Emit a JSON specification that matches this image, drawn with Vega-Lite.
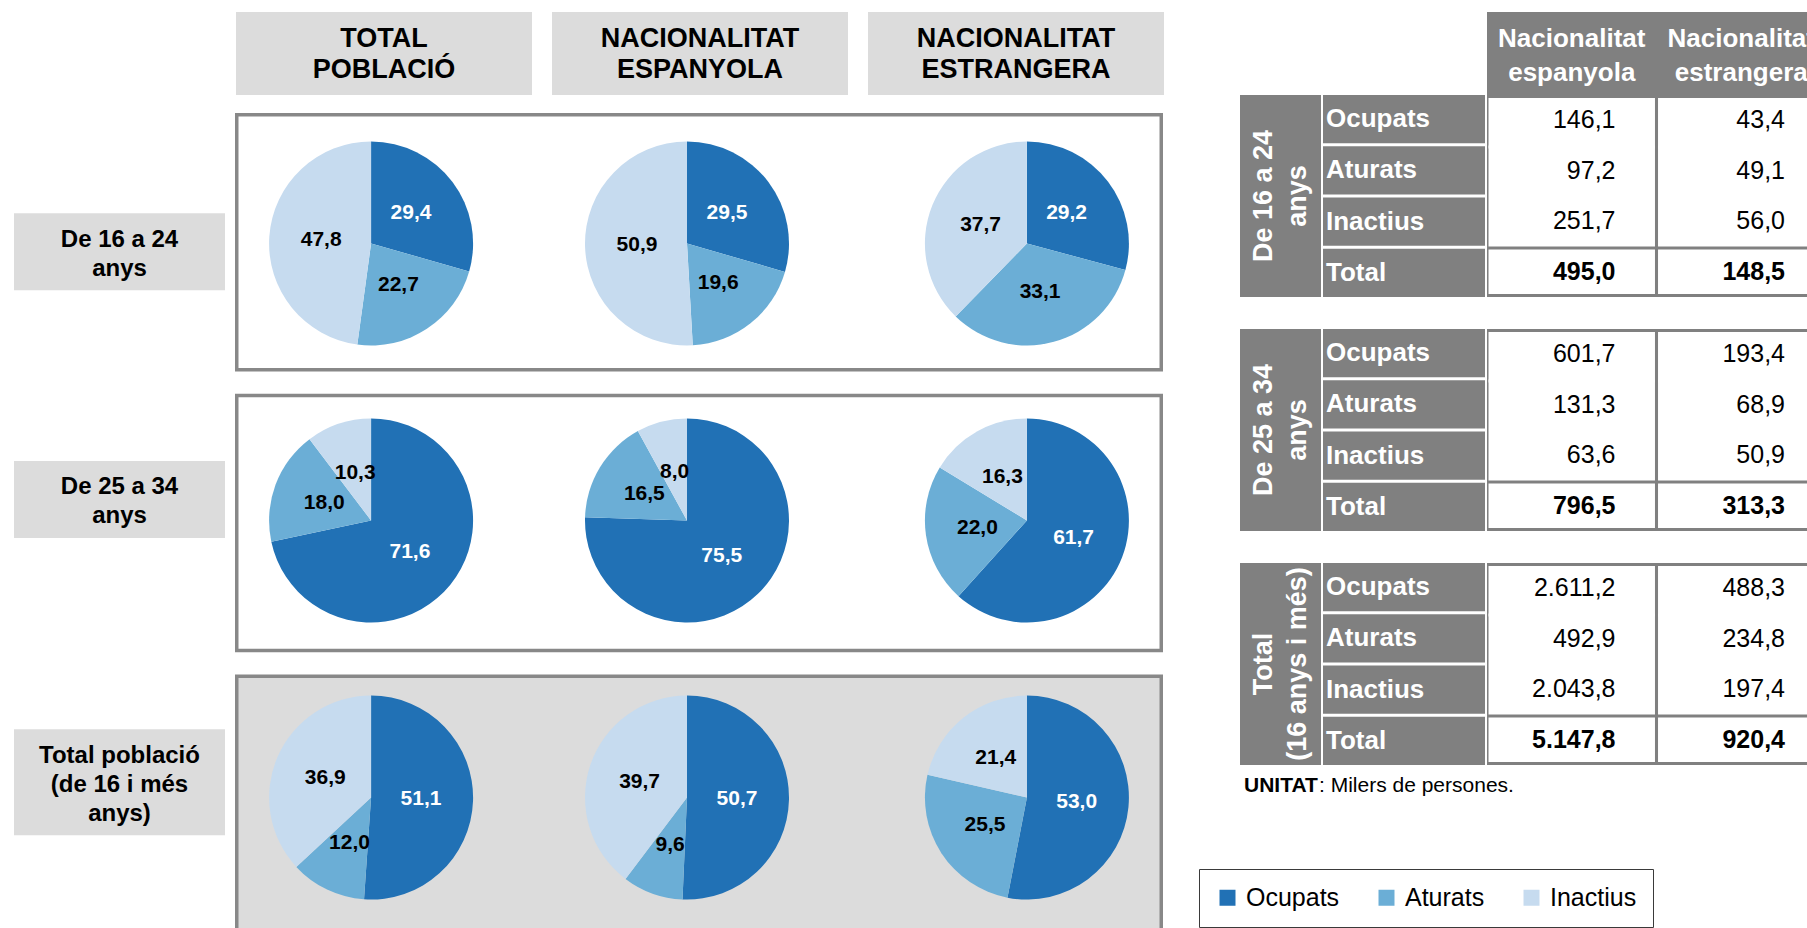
{
  "$schema": "https://vega.github.io/schema/vega-lite/v6.json",
  "padding": {"left": 14, "top": 12, "right": 0, "bottom": 0},
  "background": "white",
  "spacing": 76,
  "config": {
    "font": "Liberation Sans",
    "view": {"stroke": null},
    "locale": {"number": {"decimal": ",", "thousands": ".", "grouping": [3], "currency": ["", " €"]}}
  },
  "datasets": {
    "pies": [
      {"age": "De 16 a 24\nanys", "nat": "TOTAL POBLACIÓ", "cat": "Ocupats", "pct": 29.4},
      {"age": "De 16 a 24\nanys", "nat": "TOTAL POBLACIÓ", "cat": "Aturats", "pct": 22.7},
      {"age": "De 16 a 24\nanys", "nat": "TOTAL POBLACIÓ", "cat": "Inactius", "pct": 47.8},
      {"age": "De 16 a 24\nanys", "nat": "NACIONALITAT ESPANYOLA", "cat": "Ocupats", "pct": 29.5},
      {"age": "De 16 a 24\nanys", "nat": "NACIONALITAT ESPANYOLA", "cat": "Aturats", "pct": 19.6},
      {"age": "De 16 a 24\nanys", "nat": "NACIONALITAT ESPANYOLA", "cat": "Inactius", "pct": 50.9},
      {"age": "De 16 a 24\nanys", "nat": "NACIONALITAT ESTRANGERA", "cat": "Ocupats", "pct": 29.2},
      {"age": "De 16 a 24\nanys", "nat": "NACIONALITAT ESTRANGERA", "cat": "Aturats", "pct": 33.1},
      {"age": "De 16 a 24\nanys", "nat": "NACIONALITAT ESTRANGERA", "cat": "Inactius", "pct": 37.7},
      {"age": "De 25 a 34\nanys", "nat": "TOTAL POBLACIÓ", "cat": "Ocupats", "pct": 71.6},
      {"age": "De 25 a 34\nanys", "nat": "TOTAL POBLACIÓ", "cat": "Aturats", "pct": 18.0},
      {"age": "De 25 a 34\nanys", "nat": "TOTAL POBLACIÓ", "cat": "Inactius", "pct": 10.3},
      {"age": "De 25 a 34\nanys", "nat": "NACIONALITAT ESPANYOLA", "cat": "Ocupats", "pct": 75.5},
      {"age": "De 25 a 34\nanys", "nat": "NACIONALITAT ESPANYOLA", "cat": "Aturats", "pct": 16.5},
      {"age": "De 25 a 34\nanys", "nat": "NACIONALITAT ESPANYOLA", "cat": "Inactius", "pct": 8.0},
      {"age": "De 25 a 34\nanys", "nat": "NACIONALITAT ESTRANGERA", "cat": "Ocupats", "pct": 61.7},
      {"age": "De 25 a 34\nanys", "nat": "NACIONALITAT ESTRANGERA", "cat": "Aturats", "pct": 22.0},
      {"age": "De 25 a 34\nanys", "nat": "NACIONALITAT ESTRANGERA", "cat": "Inactius", "pct": 16.3},
      {"age": "Total població\n(de 16 i més\nanys)", "nat": "TOTAL POBLACIÓ", "cat": "Ocupats", "pct": 51.1},
      {"age": "Total població\n(de 16 i més\nanys)", "nat": "TOTAL POBLACIÓ", "cat": "Aturats", "pct": 12.0},
      {"age": "Total població\n(de 16 i més\nanys)", "nat": "TOTAL POBLACIÓ", "cat": "Inactius", "pct": 36.9},
      {"age": "Total població\n(de 16 i més\nanys)", "nat": "NACIONALITAT ESPANYOLA", "cat": "Ocupats", "pct": 50.7},
      {"age": "Total població\n(de 16 i més\nanys)", "nat": "NACIONALITAT ESPANYOLA", "cat": "Aturats", "pct": 9.6},
      {"age": "Total població\n(de 16 i més\nanys)", "nat": "NACIONALITAT ESPANYOLA", "cat": "Inactius", "pct": 39.7},
      {"age": "Total població\n(de 16 i més\nanys)", "nat": "NACIONALITAT ESTRANGERA", "cat": "Ocupats", "pct": 53.0},
      {"age": "Total població\n(de 16 i més\nanys)", "nat": "NACIONALITAT ESTRANGERA", "cat": "Aturats", "pct": 25.5},
      {"age": "Total població\n(de 16 i més\nanys)", "nat": "NACIONALITAT ESTRANGERA", "cat": "Inactius", "pct": 21.4}
    ],
    "table": [
      {"grp": "De 16 a 24\nanys", "cat": "Ocupats", "nat": "esp", "val": 146.1},
      {"grp": "De 16 a 24\nanys", "cat": "Aturats", "nat": "esp", "val": 97.2},
      {"grp": "De 16 a 24\nanys", "cat": "Inactius", "nat": "esp", "val": 251.7},
      {"grp": "De 16 a 24\nanys", "cat": "Total", "nat": "esp", "val": 495.0},
      {"grp": "De 16 a 24\nanys", "cat": "Ocupats", "nat": "est", "val": 43.4},
      {"grp": "De 16 a 24\nanys", "cat": "Aturats", "nat": "est", "val": 49.1},
      {"grp": "De 16 a 24\nanys", "cat": "Inactius", "nat": "est", "val": 56.0},
      {"grp": "De 16 a 24\nanys", "cat": "Total", "nat": "est", "val": 148.5},
      {"grp": "De 25 a 34\nanys", "cat": "Ocupats", "nat": "esp", "val": 601.7},
      {"grp": "De 25 a 34\nanys", "cat": "Aturats", "nat": "esp", "val": 131.3},
      {"grp": "De 25 a 34\nanys", "cat": "Inactius", "nat": "esp", "val": 63.6},
      {"grp": "De 25 a 34\nanys", "cat": "Total", "nat": "esp", "val": 796.5},
      {"grp": "De 25 a 34\nanys", "cat": "Ocupats", "nat": "est", "val": 193.4},
      {"grp": "De 25 a 34\nanys", "cat": "Aturats", "nat": "est", "val": 68.9},
      {"grp": "De 25 a 34\nanys", "cat": "Inactius", "nat": "est", "val": 50.9},
      {"grp": "De 25 a 34\nanys", "cat": "Total", "nat": "est", "val": 313.3},
      {"grp": "Total\n(16 anys i més)", "cat": "Ocupats", "nat": "esp", "val": 2611.2},
      {"grp": "Total\n(16 anys i més)", "cat": "Aturats", "nat": "esp", "val": 492.9},
      {"grp": "Total\n(16 anys i més)", "cat": "Inactius", "nat": "esp", "val": 2043.8},
      {"grp": "Total\n(16 anys i més)", "cat": "Total", "nat": "esp", "val": 5147.8},
      {"grp": "Total\n(16 anys i més)", "cat": "Ocupats", "nat": "est", "val": 488.3},
      {"grp": "Total\n(16 anys i més)", "cat": "Aturats", "nat": "est", "val": 234.8},
      {"grp": "Total\n(16 anys i més)", "cat": "Inactius", "nat": "est", "val": 197.4},
      {"grp": "Total\n(16 anys i més)", "cat": "Total", "nat": "est", "val": 920.4}
    ]
  },
  "hconcat": [
    {
      "vconcat": [
        {
          "hconcat": [
            {"width": 211, "height": 83, "data": {"values": [{}]}, "mark": {"type": "text", "text": ""}},
            {
              "width": 928, "height": 83,
              "data": {"values": [{"nat": "TOTAL POBLACIÓ"}, {"nat": "NACIONALITAT ESPANYOLA"}, {"nat": "NACIONALITAT ESTRANGERA"}]},
              "encoding": {"x": {"field": "nat", "type": "nominal", "axis": null, "scale": {"domain": ["TOTAL POBLACIÓ", "NACIONALITAT ESPANYOLA", "NACIONALITAT ESTRANGERA"], "paddingInner": 0.0633, "paddingOuter": 0}}},
              "layer": [
                {"mark": {"type": "rect", "fill": "#dcdcdc"}, "encoding": {"y": {"value": 0}, "y2": {"value": "height"}}},
                {"mark": {"type": "text", "fontSize": 27, "fontWeight": "bold", "color": "black", "lineBreak": " ", "lineHeight": 31, "dy": -15}, "encoding": {"text": {"field": "nat"}}}
              ]
            }
          ],
          "spacing": 10
        },
        {
          "hconcat": [
            {
              "width": 211, "height": 815,
              "data": {"values": [{"age": "De 16 a 24\nanys"}, {"age": "De 25 a 34\nanys"}, {"age": "Total població\n(de 16 i més\nanys)"}]},
              "encoding": {"y": {"field": "age", "type": "nominal", "axis": null, "scale": {"type": "point", "domain": ["De 16 a 24\nanys", "De 25 a 34\nanys", "Total població\n(de 16 i més\nanys)"], "padding": 0.5363, "align": 0.4666}}},
              "layer": [
                {"transform": [{"filter": "indexof(datum.age, 'De 16') === 0"}], "mark": {"type": "rect", "height": 77, "fill": "#dcdcdc", "yOffset": 6}, "encoding": {"x": {"value": 0}, "x2": {"value": "width"}}},
                {"transform": [{"filter": "indexof(datum.age, 'De 25') === 0"}], "mark": {"type": "rect", "height": 77, "fill": "#dcdcdc", "yOffset": -11.5}, "encoding": {"x": {"value": 0}, "x2": {"value": "width"}}},
                {"transform": [{"filter": "indexof(datum.age, 'Total') === 0"}], "mark": {"type": "rect", "height": 106, "fill": "#dcdcdc", "yOffset": 6}, "encoding": {"x": {"value": 0}, "x2": {"value": "width"}}},
                {"transform": [{"filter": "indexof(datum.age, 'De 16') === 0"}], "mark": {"type": "text", "fontSize": 24, "fontWeight": "bold", "color": "black", "lineBreak": "\n", "lineHeight": 29, "dy": -12, "yOffset": 6}, "encoding": {"text": {"field": "age"}}},
                {"transform": [{"filter": "indexof(datum.age, 'De 25') === 0"}], "mark": {"type": "text", "fontSize": 24, "fontWeight": "bold", "color": "black", "lineBreak": "\n", "lineHeight": 29, "dy": -12, "yOffset": -11.5}, "encoding": {"text": {"field": "age"}}},
                {"transform": [{"filter": "indexof(datum.age, 'Total') === 0"}], "mark": {"type": "text", "fontSize": 24, "fontWeight": "bold", "color": "black", "lineBreak": "\n", "lineHeight": 29, "dy": -26, "yOffset": 6}, "encoding": {"text": {"field": "age"}}}
              ]
            },
            {
              "width": 928, "height": 815,
              "resolve": {"scale": {"y": "independent"}},
              "layer": [
                {
                  "data": {"values": [{"age": "De 16 a 24\nanys"}, {"age": "De 25 a 34\nanys"}, {"age": "Total població\n(de 16 i més\nanys)"}]},
                  "mark": {"type": "rect", "fill": "#888888", "clip": true},
                  "encoding": {
                    "y": {"field": "age", "type": "nominal", "axis": null, "scale": {"type": "band", "domain": ["De 16 a 24\nanys", "De 25 a 34\nanys", "Total població\n(de 16 i més\nanys)"], "paddingInner": 0.0789, "paddingOuter": 0, "range": [0, 820]}},
                    "x": {"value": 0}, "x2": {"value": "width"}
                  }
                },
                {
                  "data": {"values": [{"age": "De 16 a 24\nanys"}, {"age": "De 25 a 34\nanys"}, {"age": "Total població\n(de 16 i més\nanys)"}]},
                  "mark": {"type": "rect", "clip": true, "height": {"band": 0.973}, "xOffset": 3.5, "x2Offset": -3.5},
                  "encoding": {
                    "y": {"field": "age", "type": "nominal", "axis": null, "scale": {"type": "band", "domain": ["De 16 a 24\nanys", "De 25 a 34\nanys", "Total població\n(de 16 i més\nanys)"], "paddingInner": 0.0789, "paddingOuter": 0, "range": [0, 820]}},
                    "x": {"value": 0}, "x2": {"value": "width"},
                    "fill": {"condition": {"test": "indexof(datum.age, 'Total') === 0", "value": "#dcdcdc"}, "value": "white"}
                  }
                },
                {
                  "data": {"name": "pies"},
                  "transform": [
                    {"calculate": "indexof(['Ocupats','Aturats','Inactius'], datum.cat)", "as": "ord"},
                    {"stack": "pct", "groupby": ["age", "nat"], "sort": [{"field": "ord", "order": "ascending"}], "offset": "normalize", "as": ["t0", "t1"]},
                    {"filter": "datum.nat !== 'NACIONALITAT ESPANYOLA'"}
                  ],
                  "mark": {"type": "arc", "outerRadius": 102},
                  "encoding": {
                    "x": {"field": "nat", "type": "nominal", "axis": null, "scale": {"type": "point", "domain": ["TOTAL POBLACIÓ", "NACIONALITAT ESPANYOLA", "NACIONALITAT ESTRANGERA"], "padding": 0.415}},
                    "y": {"field": "age", "type": "nominal", "axis": null, "scale": {"type": "point", "domain": ["De 16 a 24\nanys", "De 25 a 34\nanys", "Total població\n(de 16 i més\nanys)"], "padding": 0.471, "align": 0.5}},
                    "theta": {"field": "t0", "type": "quantitative", "scale": {"domain": [0, 1], "range": [0, 6.283185307]}},
                    "theta2": {"field": "t1"},
                    "color": {
                      "field": "cat", "type": "nominal",
                      "scale": {"domain": ["Ocupats", "Aturats", "Inactius"], "range": ["#2171b5", "#6baed6", "#c6dbef"]},
                      "legend": {
                        "orient": "none", "legendX": 1185, "legendY": 857, "direction": "horizontal", "title": null,
                        "symbolType": "square", "symbolSize": 256, "symbolStrokeWidth": 0,
                        "labelFontSize": 25, "labelColor": "black", "labelOffset": 6, "columnPadding": 34,
                        "padding": 16, "strokeColor": "#3a3a3a", "fillColor": "white", "labelLimit": 300
                      }
                    }
                  }
                },
                {
                  "data": {"name": "pies"},
                  "transform": [
                    {"calculate": "indexof(['Ocupats','Aturats','Inactius'], datum.cat)", "as": "ord"},
                    {"stack": "pct", "groupby": ["age", "nat"], "sort": [{"field": "ord", "order": "ascending"}], "offset": "normalize", "as": ["t0", "t1"]},
                    {"filter": "datum.nat === 'NACIONALITAT ESPANYOLA'"}
                  ],
                  "mark": {"type": "arc", "outerRadius": 102, "xOffset": -12},
                  "encoding": {
                    "x": {"field": "nat", "type": "nominal", "axis": null, "scale": {"type": "point", "domain": ["TOTAL POBLACIÓ", "NACIONALITAT ESPANYOLA", "NACIONALITAT ESTRANGERA"], "padding": 0.415}},
                    "y": {"field": "age", "type": "nominal", "axis": null, "scale": {"type": "point", "domain": ["De 16 a 24\nanys", "De 25 a 34\nanys", "Total població\n(de 16 i més\nanys)"], "padding": 0.471, "align": 0.5}},
                    "theta": {"field": "t0", "type": "quantitative", "scale": {"domain": [0, 1], "range": [0, 6.283185307]}},
                    "theta2": {"field": "t1"},
                    "color": {"field": "cat", "type": "nominal", "scale": {"domain": ["Ocupats", "Aturats", "Inactius"], "range": ["#2171b5", "#6baed6", "#c6dbef"]}}
                  }
                },
                {
                  "data": {"name": "pies"},
                  "transform": [
                    {"calculate": "indexof(['Ocupats','Aturats','Inactius'], datum.cat)", "as": "ord"},
                    {"stack": "pct", "groupby": ["age", "nat"], "sort": [{"field": "ord", "order": "ascending"}], "offset": "normalize", "as": ["t0", "t1"]},
                    {"calculate": "(datum.t0 + datum.t1) / 2", "as": "tm"},
                    {"filter": "datum.nat !== 'NACIONALITAT ESPANYOLA'"}
                  ],
                  "mark": {"type": "text", "radius": 50, "fontSize": 21, "fontWeight": "bold"},
                  "encoding": {
                    "x": {"field": "nat", "type": "nominal", "axis": null, "scale": {"type": "point", "domain": ["TOTAL POBLACIÓ", "NACIONALITAT ESPANYOLA", "NACIONALITAT ESTRANGERA"], "padding": 0.415}},
                    "y": {"field": "age", "type": "nominal", "axis": null, "scale": {"type": "point", "domain": ["De 16 a 24\nanys", "De 25 a 34\nanys", "Total població\n(de 16 i més\nanys)"], "padding": 0.471, "align": 0.5}},
                    "theta": {"field": "tm", "type": "quantitative", "stack": null},
                    "text": {"field": "pct", "type": "quantitative", "format": ".1f"},
                    "color": {"condition": {"test": "datum.cat === 'Ocupats'", "value": "white"}, "value": "black"}
                  }
                },
                {
                  "data": {"name": "pies"},
                  "transform": [
                    {"calculate": "indexof(['Ocupats','Aturats','Inactius'], datum.cat)", "as": "ord"},
                    {"stack": "pct", "groupby": ["age", "nat"], "sort": [{"field": "ord", "order": "ascending"}], "offset": "normalize", "as": ["t0", "t1"]},
                    {"calculate": "(datum.t0 + datum.t1) / 2", "as": "tm"},
                    {"filter": "datum.nat === 'NACIONALITAT ESPANYOLA'"}
                  ],
                  "mark": {"type": "text", "radius": 50, "fontSize": 21, "fontWeight": "bold", "xOffset": -12},
                  "encoding": {
                    "x": {"field": "nat", "type": "nominal", "axis": null, "scale": {"type": "point", "domain": ["TOTAL POBLACIÓ", "NACIONALITAT ESPANYOLA", "NACIONALITAT ESTRANGERA"], "padding": 0.415}},
                    "y": {"field": "age", "type": "nominal", "axis": null, "scale": {"type": "point", "domain": ["De 16 a 24\nanys", "De 25 a 34\nanys", "Total població\n(de 16 i més\nanys)"], "padding": 0.471, "align": 0.5}},
                    "theta": {"field": "tm", "type": "quantitative", "stack": null},
                    "text": {"field": "pct", "type": "quantitative", "format": ".1f"},
                    "color": {"condition": {"test": "datum.cat === 'Ocupats'", "value": "white"}, "value": "black"}
                  }
                }
              ]
            }
          ],
          "spacing": 10
        }
      ],
      "spacing": 18
    },
    {
      "vconcat": [
        {
          "hconcat": [
            {"width": 245, "height": 83, "data": {"values": [{}]}, "mark": {"type": "text", "text": ""}},
            {
              "width": 321, "height": 83,
              "data": {"values": [{"col": "Nacionalitat espanyola"}, {"col": "Nacionalitat estrangera"}]},
              "layer": [
                {"mark": {"type": "rect", "fill": "#808080"}, "encoding": {"x": {"value": 0}, "x2": {"value": "width"}, "y": {"value": 0}, "y2": {"value": "height"}}},
                {
                  "mark": {"type": "text", "fontSize": 26, "fontWeight": "bold", "color": "white", "lineBreak": " ", "lineHeight": 34, "clip": true, "dy": -15},
                  "encoding": {
                    "x": {"field": "col", "type": "nominal", "axis": null, "scale": {"domain": ["Nacionalitat espanyola", "Nacionalitat estrangera"], "range": [0, 339], "paddingInner": 0, "paddingOuter": 0}},
                    "text": {"field": "col"}
                  }
                }
              ]
            }
          ],
          "spacing": 2
        },
        {
          "hconcat": [
            {
              "data": {"values": [{"grp": "De 16 a 24\nanys"}, {"grp": "De 25 a 34\nanys"}, {"grp": "Total\n(16 anys i més)"}]},
              "facet": {"row": {"field": "grp", "type": "nominal", "sort": ["De 16 a 24\nanys", "De 25 a 34\nanys", "Total\n(16 anys i més)"], "header": {"title": null, "labels": false}}},
              "spacing": {"row": 32},
              "spec": {
                "width": 81, "height": 202,
                "layer": [
                  {"mark": {"type": "rect", "fill": "#808080"}, "encoding": {"x": {"value": 0}, "x2": {"value": "width"}, "y": {"value": 0}, "y2": {"value": "height"}}},
                  {"mark": {"type": "text", "fontSize": 27, "fontWeight": "bold", "color": "white", "angle": 270, "lineBreak": "\n", "lineHeight": 34, "dy": -17}, "encoding": {"text": {"field": "grp"}}}
                ]
              }
            },
            {
              "data": {"name": "table"},
              "transform": [{"filter": "datum.nat === 'esp'"}],
              "facet": {"row": {"field": "grp", "type": "nominal", "sort": ["De 16 a 24\nanys", "De 25 a 34\nanys", "Total\n(16 anys i més)"], "header": {"title": null, "labels": false}}},
              "spacing": {"row": 32},
              "spec": {
                "width": 162, "height": 202,
                "encoding": {"y": {"field": "cat", "type": "nominal", "axis": null, "scale": {"domain": ["Ocupats", "Aturats", "Inactius", "Total"], "paddingInner": 0.06, "paddingOuter": 0}}},
                "layer": [
                  {"mark": {"type": "rect", "fill": "#808080"}, "encoding": {"x": {"value": 0}, "x2": {"value": "width"}}},
                  {"mark": {"type": "text", "align": "left", "dx": 3, "fontSize": 26, "fontWeight": "bold", "color": "white"}, "encoding": {"x": {"value": 0}, "text": {"field": "cat"}}}
                ]
              }
            },
            {
              "data": {"name": "table"},
              "facet": {"row": {"field": "grp", "type": "nominal", "sort": ["De 16 a 24\nanys", "De 25 a 34\nanys", "Total\n(16 anys i més)"], "header": {"title": null, "labels": false}}},
              "spacing": {"row": 32},
              "spec": {
                "width": 321, "height": 202,
                "encoding": {
                  "y": {"field": "cat", "type": "nominal", "axis": null, "scale": {"domain": ["Ocupats", "Aturats", "Inactius", "Total"], "paddingInner": 0, "paddingOuter": 0}},
                  "x": {"field": "nat", "type": "nominal", "axis": null, "scale": {"domain": ["esp", "est"], "range": [0, 339], "paddingInner": 0, "paddingOuter": 0}}
                },
                "layer": [
                  {"mark": {"type": "rect", "fill": "#808080", "clip": true}, "encoding": {"x": {"value": 0}, "x2": {"value": "width"}, "y": {"value": 0}, "y2": {"value": "height"}}},
                  {"transform": [{"filter": "datum.cat === 'Ocupats'"}], "mark": {"type": "rect", "fill": "white", "clip": true, "width": {"band": 0.982}, "yOffset": 3}},
                  {"transform": [{"filter": "datum.cat === 'Aturats' || datum.cat === 'Inactius'"}], "mark": {"type": "rect", "fill": "white", "clip": true, "width": {"band": 0.982}}},
                  {"transform": [{"filter": "datum.cat === 'Total'"}], "mark": {"type": "rect", "fill": "white", "clip": true, "width": {"band": 0.982}, "height": {"band": 0.88}}},
                  {"transform": [{"filter": "datum.cat !== 'Total'"}], "mark": {"type": "text", "align": "right", "dx": -41, "fontSize": 25, "color": "black", "clip": true}, "encoding": {"x": {"field": "nat", "type": "nominal", "bandPosition": 1}, "text": {"field": "val", "type": "quantitative", "format": ",.1f"}}},
                  {"transform": [{"filter": "datum.cat === 'Total'"}], "mark": {"type": "text", "align": "right", "dx": -41, "fontSize": 25, "fontWeight": "bold", "color": "black", "clip": true}, "encoding": {"x": {"field": "nat", "type": "nominal", "bandPosition": 1}, "text": {"field": "val", "type": "quantitative", "format": ",.1f"}}}
                ]
              }
            }
          ],
          "spacing": 2
        },
        {
          "width": 568, "height": 42,
          "data": {"values": [{"a": "UNITAT", "b": ": Milers de persones."}]},
          "layer": [
            {"mark": {"type": "text", "align": "left", "fontSize": 21, "fontWeight": "bold", "color": "black", "dx": 4}, "encoding": {"x": {"value": 0}, "text": {"field": "a"}}},
            {"mark": {"type": "text", "align": "left", "fontSize": 21, "color": "black", "dx": 79}, "encoding": {"x": {"value": 0}, "text": {"field": "b"}}}
          ]
        }
      ],
      "spacing": 0
    }
  ]
}
